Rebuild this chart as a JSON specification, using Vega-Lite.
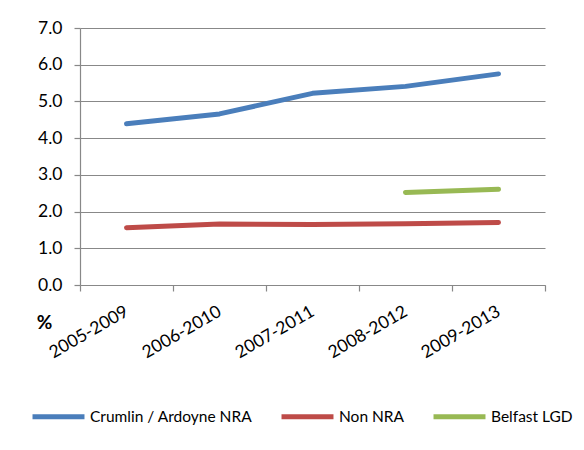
{
  "$schema": "https://vega.github.io/schema/vega-lite/v6.json",
  "width": 465,
  "height": 257,
  "autosize": "none",
  "padding": {"left": 80, "top": 28, "right": 39, "bottom": 165},
  "background": "white",
  "config": {
    "font": "Lato",
    "view": {"stroke": null},
    "axis": {"labelFont": "Lato", "labelFontSize": 17.5, "labelColor": "#000000", "domainColor": "#888888", "tickColor": "#888888", "gridColor": "#888888", "gridWidth": 1.2, "domainWidth": 1.2, "tickWidth": 1.2}
  },
  "data": {
    "values": [
      {"series": "Crumlin / Ardoyne NRA", "period": "2005-2009", "value": 4.39},
      {"series": "Crumlin / Ardoyne NRA", "period": "2006-2010", "value": 4.66},
      {"series": "Crumlin / Ardoyne NRA", "period": "2007-2011", "value": 5.22},
      {"series": "Crumlin / Ardoyne NRA", "period": "2008-2012", "value": 5.41},
      {"series": "Crumlin / Ardoyne NRA", "period": "2009-2013", "value": 5.75},
      {"series": "Non NRA", "period": "2005-2009", "value": 1.56},
      {"series": "Non NRA", "period": "2006-2010", "value": 1.66},
      {"series": "Non NRA", "period": "2007-2011", "value": 1.65},
      {"series": "Non NRA", "period": "2008-2012", "value": 1.67},
      {"series": "Non NRA", "period": "2009-2013", "value": 1.7},
      {"series": "Belfast LGD", "period": "2008-2012", "value": 2.52},
      {"series": "Belfast LGD", "period": "2009-2013", "value": 2.61}
    ]
  },
  "mark": {"type": "line", "strokeWidth": 5, "strokeCap": "round", "strokeJoin": "round"},
  "encoding": {
    "x": {
      "field": "period", "type": "nominal", "sort": null,
      "scale": {"type": "band", "paddingInner": 0, "paddingOuter": 0},
      "axis": {"title": null, "labelAngle": -30, "labelAlign": "right", "labelBaseline": "middle", "tickBand": "extent", "tickSize": 6, "labelPadding": 19, "labelOffset": 0, "grid": false}
    },
    "y": {
      "field": "value", "type": "quantitative",
      "scale": {"domain": [0, 7], "nice": false},
      "axis": {"values": [0, 1, 2, 3, 4, 5, 6, 7], "format": ".1f", "grid": true, "tickSize": 6, "labelPadding": 12, "title": "%", "titleAngle": 0, "titleFontSize": 19, "titleFontWeight": "bold", "titleFont": "Lato", "titleX": -36, "titleY": 294, "titleAlign": "center", "titleBaseline": "middle"}
    },
    "color": {
      "field": "series", "type": "nominal",
      "scale": {"domain": ["Crumlin / Ardoyne NRA", "Non NRA", "Belfast LGD"], "range": ["#4a7ebb", "#be4b48", "#98b954"]},
      "legend": {"title": null, "orient": "none", "legendX": -50, "legendY": 360, "direction": "horizontal", "symbolType": "stroke", "symbolSize": 2700, "symbolStrokeWidth": 5, "labelFontSize": 15.5, "labelFont": "Lato", "labelColor": "#000000", "labelOffset": 3, "labelLimit": 300, "columnPadding": 18}
    }
  }
}
